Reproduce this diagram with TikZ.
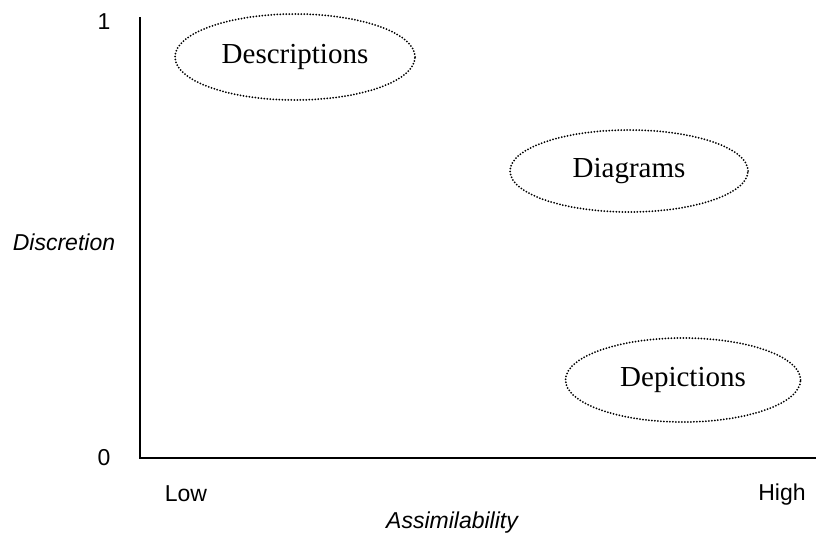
\documentclass[tikz,border=0pt]{standalone}
\usepackage{fontspec}
\setmainfont{Liberation Serif}
\setsansfont{Liberation Sans}
\usetikzlibrary{shapes.geometric}
\begin{document}
\begin{tikzpicture}[x=1pt,y=-1pt,
  cat/.style={draw, ellipse, line width=2pt, line cap=round, dash pattern=on 0pt off 3pt, inner sep=0pt,
    font=\fontsize{29}{34}\selectfont},
  axis/.style={line width=2pt},
  lab/.style={anchor=base, inner sep=0pt, font=\sffamily\fontsize{23}{27}\selectfont},
  ilab/.style={lab, font=\sffamily\itshape\fontsize{23}{27}\selectfont}]
\useasboundingbox (0,0) rectangle (818,541);
\coordinate (top) at (140,17);
\coordinate (origin) at (140,458);
\coordinate (right) at (816,458);
\draw[axis] (top) -- (origin) -- (right);
\node[lab] (one) at (104,29) {1};
\node[lab] (zero) at (104,465) {0};
\node[ilab] (disc) at (64,250) {Discretion};
\node[lab] (low) at (186,501) {Low};
\node[lab] (high) at (782,500) {High};
\node[ilab] (assim) at (452,528) {Assimilability};
\node[cat, minimum width=240pt, minimum height=86pt] (desc) at (295,57) {Descriptions};
\node[cat, minimum width=238pt, minimum height=82pt] (diag) at (629,171) {Diagrams};
\node[cat, minimum width=235pt, minimum height=84pt] (depi) at (683,380) {Depictions};
\end{tikzpicture}
\end{document}
